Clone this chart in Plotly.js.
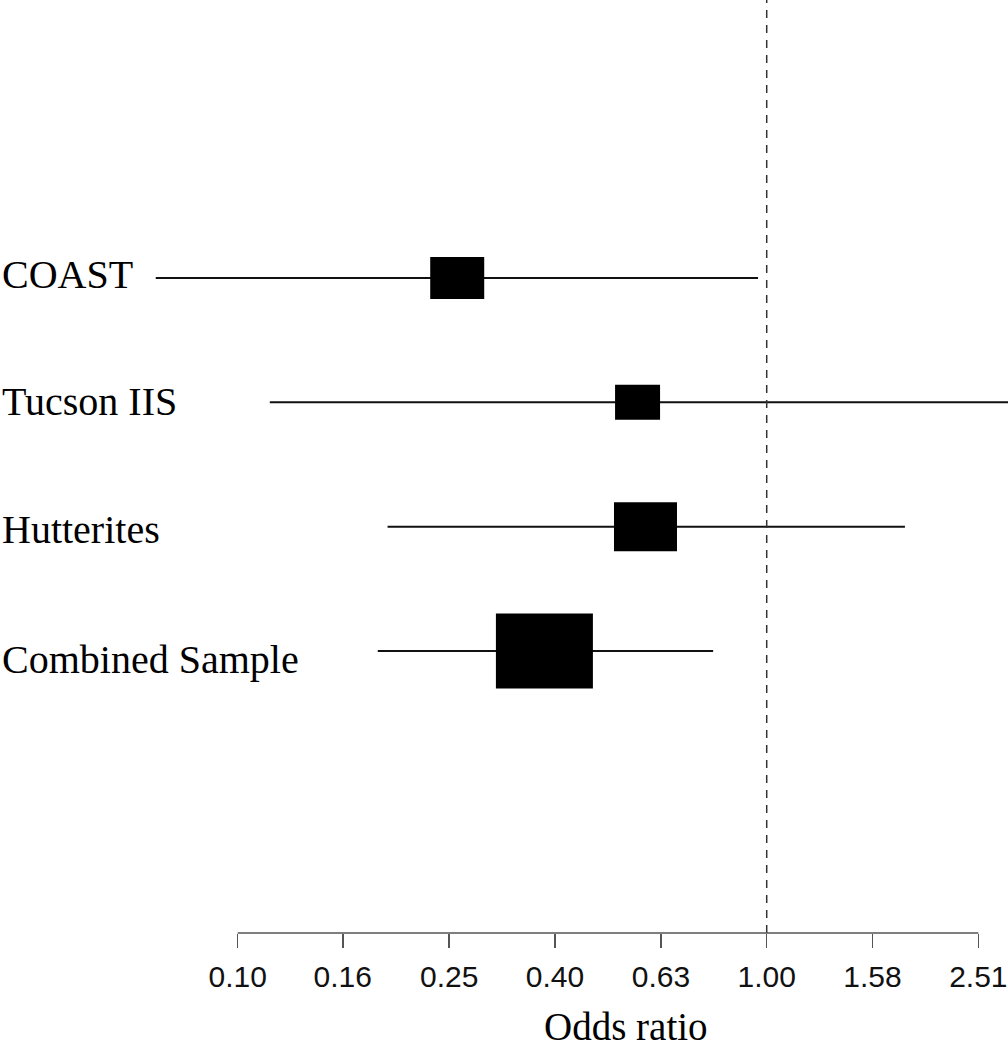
<!DOCTYPE html>
<html>
<head>
<meta charset="utf-8">
<script src="https://cdn.plot.ly/plotly-3.0.1.min.js"></script>
<style>
  html, body { margin: 0; padding: 0; background: #fff; }
  #chart { width: 1008px; height: 1050px; }
</style>
</head>
<body>
<div id="chart"></div>
<script>
// ---- data ----
const studies = ["COAST", "Tucson IIS", "Hutterites", "Combined Sample"];
const oddsRatio = [0.26, 0.57, 0.59, 0.38];
const lowerCI = [0.070, 0.115, 0.192, 0.184];
const upperCI = [0.963, 2.95, 1.825, 0.792];
const tickVals = [0.10, 0.158, 0.251, 0.398, 0.631, 1.00, 1.585, 2.512];
const tickLabels = ["0.10", "0.16", "0.25", "0.40", "0.63", "1.00", "1.58", "2.51"];
const xTitle = "Odds ratio";

// ---- styles (box sizes in pixels, label nudges) ----
const boxW = [54, 45, 63, 97];
const boxH = [42, 35, 49, 75];
const labelShift = [4, 1, -3, -8];

const W = 1008, H = 1050;
const margin = { l: 0, r: 0, t: 0, b: 117 };
const xRange = [-1.4493, 0.4561];
const pxPerDecade = (W - margin.l - margin.r) / (xRange[1] - xRange[0]);

const rows = studies.map((_, i) => studies.length - i); // 4,3,2,1

const traces = studies.map((s, i) => ({
  type: 'scatter',
  mode: 'lines',
  x: [lowerCI[i], upperCI[i]],
  y: [rows[i], rows[i]],
  line: { color: '#111', width: 2 },
  hoverinfo: 'skip',
  showlegend: false
}));

const shapes = [];
// null line
shapes.push({
  type: 'line', xref: 'x', yref: 'paper',
  x0: 1, x1: 1, y0: 0, y1: 1,
  line: { color: '#333', width: 1.5, dash: '8px,7px' }
});
// axis line from first to last tick
shapes.push({
  type: 'line', xref: 'x', yref: 'paper',
  x0: tickVals[0], x1: tickVals[tickVals.length - 1], y0: 0, y1: 0,
  line: { color: '#555', width: 1.5 }
});
// boxes: centred on the odds ratio, box width given in pixels
studies.forEach((s, i) => {
  const f = Math.pow(10, (boxW[i] / 2) / pxPerDecade);
  shapes.push({
    type: 'rect', xref: 'x', yref: 'y',
    ysizemode: 'pixel', yanchor: rows[i],
    x0: oddsRatio[i] / f, x1: oddsRatio[i] * f,
    y0: -boxH[i] / 2, y1: boxH[i] / 2,
    fillcolor: '#000', line: { width: 0 }
  });
});

const annotations = studies.map((s, i) => ({
  text: s, xref: 'paper', yref: 'y',
  x: 0, y: rows[i], xanchor: 'left', yanchor: 'middle',
  yshift: labelShift[i],
  showarrow: false,
  font: { family: 'Liberation Serif, Times New Roman, serif', size: 40, color: '#000' }
}));
annotations.push({
  text: xTitle, xref: 'paper', yref: 'paper',
  x: 626 / W, y: 0, yanchor: 'bottom', xanchor: 'center',
  yshift: -margin.b + 1, borderpad: 0,
  showarrow: false,
  font: { family: 'Liberation Serif, Times New Roman, serif', size: 39, color: '#000' }
});

const layout = {
  width: W, height: H,
  margin: Object.assign({ pad: 0 }, margin),
  paper_bgcolor: '#fff', plot_bgcolor: '#fff',
  showlegend: false,
  xaxis: {
    type: 'log',
    range: xRange,
    tickmode: 'array', tickvals: tickVals, ticktext: tickLabels,
    ticks: 'outside', ticklen: 14, tickwidth: 1.5, tickcolor: '#555',
    showline: false, showgrid: false, zeroline: false,
    tickfont: { family: 'Liberation Sans, Arial, sans-serif', size: 30, color: '#111' },
    ticklabelstandoff: 3,
    fixedrange: true
  },
  yaxis: {
    range: [-1.268, 6.236],
    showticklabels: false, ticks: '', showgrid: false, zeroline: false, showline: false,
    fixedrange: true
  },
  shapes: shapes,
  annotations: annotations
};

Plotly.newPlot('chart', traces, layout, { displayModeBar: false, staticPlot: true });
</script>
</body>
</html>
